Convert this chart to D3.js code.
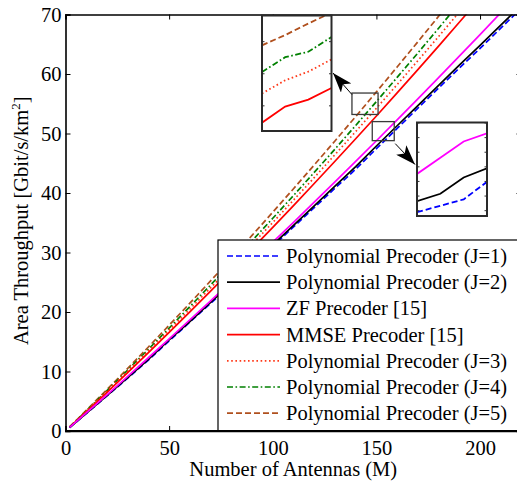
<!DOCTYPE html>
<html><head><meta charset="utf-8">
<script src="https://cdn.jsdelivr.net/npm/d3@7/dist/d3.min.js"></script>
<style>body{margin:0;background:#fff;} svg{display:block;} text{font-family:"Liberation Serif","Times New Roman",serif;}</style>
</head><body>
<svg id="c" width="517" height="485"></svg>
<script>
// ---------- data ----------
const antennas = [2,10,20,30,40,50,60,70,80,90,100,110,120,130,140,150,160,170,180,190,200,210,220];
const polyJ1 = [0.58,2.93,5.89,8.89,11.91,15.15,18.30,21.45,24.60,27.80,31.05,34.30,37.55,40.80,44.00,47.45,50.85,54.25,57.65,61.00,64.30,67.70,71.10];
const polyJ2 = [0.59,2.96,5.96,8.98,12.03,15.30,18.40,21.60,24.80,28.00,31.30,34.55,37.85,41.15,44.45,47.90,51.30,54.70,58.10,61.50,64.80,68.20,71.60];
const zf     = [0.60,3.03,6.09,9.18,12.31,15.47,18.66,21.88,25.13,28.41,31.73,35.07,38.45,41.86,45.31,48.78,52.29,55.82,59.39,63.00,66.63,70.29,73.99];
const mmse   = [0.64,3.23,6.51,9.82,13.18,16.58,20.03,23.52,27.04,30.62,34.23,37.89,41.59,45.34,49.12,52.95,56.82,60.74,64.69,68.69,72.73,76.82,80.94];
const polyJ3 = [0.66,3.30,6.65,10.05,13.49,16.97,20.49,24.07,27.68,31.35,35.05,38.80,42.59,46.44,50.32,54.25,58.22,62.24,66.30,70.41,74.56,78.75,82.99];
const polyJ4 = [0.67,3.37,6.78,10.24,13.74,17.30,20.90,24.54,28.23,31.97,35.75,39.58,43.46,47.38,51.35,55.37,59.43,63.53,67.69,71.89,76.13,80.43,84.76];
const polyJ5 = [0.69,3.46,6.96,10.52,14.12,17.78,21.48,25.23,29.02,32.88,36.77,40.71,44.71,48.75,52.84,56.99,61.18,65.41,69.70,74.04,78.42,82.85,87.34];

const xTicks = [0,50,100,150,200];
const yTicks = [0,10,20,30,40,50,60,70];
const legendLabels = ["Polynomial Precoder (J=1)","Polynomial Precoder (J=2)","ZF Precoder [15]","MMSE Precoder [15]","Polynomial Precoder (J=3)","Polynomial Precoder (J=4)","Polynomial Precoder (J=5)"];
const xLabel = "Number of Antennas (M)";

// zoom windows (data ranges of the small rectangles)
const upperBoxM = [138.2, 150.8], upperBoxV = [53.2, 56.8];
const lowerBoxM = [148.0, 158.6], lowerBoxV = [48.8, 52.0];

// inset samples
const insetUpperM = [0,1,2,3];
const insetUpperMmse = [53.46,53.96,54.18,54.54];
const insetUpperJ3   = [54.37,54.78,55.05,55.43];
const insetUpperJ4   = [55.04,55.50,55.67,56.13];
const insetUpperJ5   = [55.87,56.19,56.55,56.89];
const insetLowerM = [0,1,2,3];
const insetLowerZf = [50.24,50.79,51.35,51.63];
const insetLowerJ2 = [49.31,49.56,50.12,50.43];
const insetLowerJ1 = [48.93,49.15,49.37,49.97];

// ---------- styles ----------
const styles = [
  {color:"#0000ff", dash:"6,3"},
  {color:"#000000", dash:null},
  {color:"#ff00ff", dash:null},
  {color:"#ff0000", dash:null},
  {color:"#ff3a1a", dash:"1.6,2.6"},
  {color:"#008000", dash:"6,2.5,1.6,2.5"},
  {color:"#b0501e", dash:"6,3"}
];
const seriesList = [polyJ1, polyJ2, zf, mmse, polyJ3, polyJ4, polyJ5];
const drawOrder = [6,5,4,3,0,1,2];

const svg = d3.select("#c");
const L = 65.5, T = 14.5, B = 431, R = 521.5;
const x = d3.scaleLinear().domain([0,220]).range([L,R]);
const y = d3.scaleLinear().domain([0,70]).range([B,T]);

svg.append("defs").append("clipPath").attr("id","pc").append("rect")
  .attr("x",L).attr("y",T).attr("width",R-L).attr("height",B-T);

const FS = 20.5;
// lines
const gl = svg.append("g").attr("clip-path","url(#pc)");
const line = d3.line().x((d,i)=>x(antennas[i])).y(d=>y(d));
drawOrder.forEach(k=>{
  gl.append("path").attr("d", line(seriesList[k])).attr("fill","none")
    .attr("stroke", styles[k].color).attr("stroke-width",1.7)
    .attr("stroke-dasharray", styles[k].dash);
});

// axes
const ax = svg.append("g");
ax.append("g").attr("transform",`translate(0,${B})`)
  .call(d3.axisBottom(x).tickValues(xTicks).tickSize(-5).tickPadding(9).tickFormat(d3.format("d")));
ax.append("g").attr("transform",`translate(0,${T})`)
  .call(d3.axisTop(x).tickValues(xTicks).tickSize(-5).tickFormat(""));
ax.append("g").attr("transform",`translate(${L},0)`)
  .call(d3.axisLeft(y).tickValues(yTicks).tickSize(-5).tickPadding(4).tickFormat(d3.format("d")));
ax.append("g").attr("transform",`translate(${R},0)`)
  .call(d3.axisRight(y).tickValues(yTicks).tickSize(-5).tickFormat(""));
ax.selectAll(".domain").attr("stroke","#000").attr("stroke-width",1.6);
ax.selectAll(".tick line").attr("stroke","#000").attr("stroke-width",1);
ax.selectAll(".tick text").attr("font-size",FS).attr("fill","#000")
  .style("font-family","'Liberation Serif',serif");

// axis titles
svg.append("text").attr("x",(L+517)/2+2).attr("y",476).attr("text-anchor","middle")
  .attr("font-size",FS).text(xLabel);
const yt = svg.append("text").attr("transform",`translate(28,${(T+B)/2-2}) rotate(-90)`)
  .attr("text-anchor","middle").attr("font-size",FS);
yt.append("tspan").text("Area Throughput [Gbit/s/km");
yt.append("tspan").attr("font-size",13).attr("dy",-8).text("2");
yt.append("tspan").attr("dy",8).text("]");

// small rectangles
function boxRect(mr, vr){
  svg.append("rect").attr("x",x(mr[0])).attr("y",y(vr[1]))
    .attr("width",x(mr[1])-x(mr[0])).attr("height",y(vr[0])-y(vr[1]))
    .attr("fill","none").attr("stroke","#3a3a3a").attr("stroke-width",1.3);
}
boxRect(upperBoxM, upperBoxV);
boxRect(lowerBoxM, lowerBoxV);

// arrows
const defs = svg.select("defs");
defs.append("marker").attr("id","ah").attr("viewBox","0 0 20 14").attr("refX",20).attr("refY",7)
  .attr("markerWidth",20).attr("markerHeight",14).attr("markerUnits","userSpaceOnUse").attr("orient","auto")
  .append("path").attr("d","M0,0 L20,7 L0,14 L5,7 Z").attr("fill","#000");
function arrow(x1,y1,x2,y2){
  svg.append("line").attr("x1",x1).attr("y1",y1).attr("x2",x2).attr("y2",y2)
    .attr("stroke","#000").attr("stroke-width",1).attr("marker-end","url(#ah)");
}
arrow(x(upperBoxM[0]), y(upperBoxV[1])+1.5, 333, 73);
arrow(x(lowerBoxM[1])+1, y(lowerBoxV[0])+3, 415, 164.5);

// insets
function inset(px, py, pw, ph, mDom, vDom, xs, list){
  const g = svg.append("g");
  const id = "ic"+Math.round(px);
  defs.append("clipPath").attr("id",id).append("rect").attr("x",px).attr("y",py).attr("width",pw).attr("height",ph);
  g.append("rect").attr("x",px).attr("y",py).attr("width",pw).attr("height",ph).attr("fill","#fff");
  const sx = d3.scaleLinear().domain(mDom).range([px,px+pw]);
  const sy = d3.scaleLinear().domain(vDom).range([py+ph,py]);
  const gl2 = g.append("g").attr("clip-path",`url(#${id})`);
  list.forEach(([vals, st])=>{
    gl2.append("path").attr("d", d3.line().x((d,i)=>sx(xs[i])).y(d=>sy(d))(vals))
      .attr("fill","none").attr("stroke",st.color).attr("stroke-width",1.8).attr("stroke-dasharray",st.dash);
  });
  const tv = sy.ticks(5);
  g.append("g").attr("transform",`translate(${px},0)`).call(d3.axisLeft(sy).tickValues(tv).tickSize(-2.5).tickFormat(""))
    .call(s=>s.select(".domain").remove());
  g.append("g").attr("transform",`translate(${px+pw},0)`).call(d3.axisRight(sy).tickValues(tv).tickSize(-2.5).tickFormat(""))
    .call(s=>s.select(".domain").remove());
  g.selectAll(".tick line").attr("stroke","#333");
  g.append("rect").attr("x",px).attr("y",py).attr("width",pw).attr("height",ph)
    .attr("fill","none").attr("stroke","#2a2a2a").attr("stroke-width",2);
}
inset(262, 15.5, 69.5, 115.5, [0,3], upperBoxV, insetUpperM,
  [[insetUpperMmse, styles[3]],[insetUpperJ3, styles[4]],[insetUpperJ4, styles[5]],[insetUpperJ5, styles[6]]]);
inset(417, 122.5, 70, 93.5, [0,3], lowerBoxV, insetLowerM,
  [[insetLowerJ1, styles[0]],[insetLowerJ2, styles[1]],[insetLowerZf, styles[2]]]);

// legend
const lg = svg.append("g");
lg.append("rect").attr("x",218).attr("y",240).attr("width",320).attr("height",B-240)
  .attr("fill","#fff").attr("stroke","#000").attr("stroke-width",1.2);
legendLabels.forEach((lab,i)=>{
  const cy = 256 + 26.2*i;
  lg.append("line").attr("x1",227).attr("x2",280).attr("y1",cy).attr("y2",cy)
    .attr("stroke",styles[i].color).attr("stroke-width",1.7).attr("stroke-dasharray",styles[i].dash);
  lg.append("text").attr("x",286).attr("y",cy+7).attr("font-size",FS).text(lab);
});
// redraw bottom axis line over legend
svg.append("line").attr("x1",L).attr("x2",517).attr("y1",B).attr("y2",B).attr("stroke","#000").attr("stroke-width",1.8);
</script>
</body></html>
